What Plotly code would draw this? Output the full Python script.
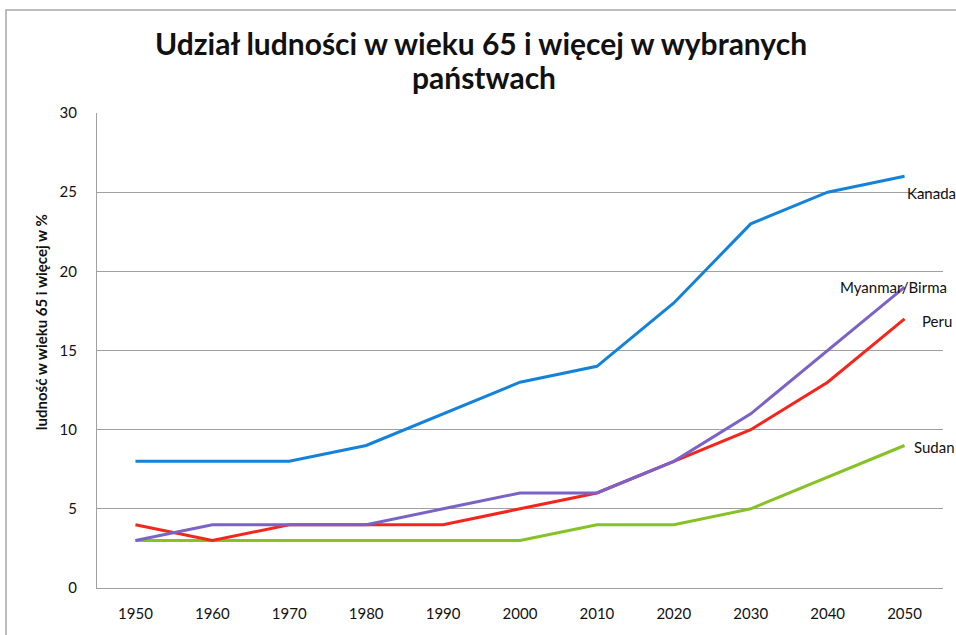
import plotly.graph_objects as go

years = ["1950", "1960", "1970", "1980", "1990", "2000", "2010", "2020", "2030", "2040", "2050"]
kanada = [8, 8, 8, 9, 11, 13, 14, 18, 23, 25, 26]
myanmar = [3, 4, 4, 4, 5, 6, 6, 8, 11, 15, 19]
peru = [4, 3, 4, 4, 4, 5, 6, 8, 10, 13, 17]
sudan = [3, 3, 3, 3, 3, 3, 4, 4, 5, 7, 9]

series = [
    ("Kanada", kanada, "#1482d8", 0, -17),
    ("Sudan", sudan, "#86c226", 7, -1),
    ("Peru", peru, "#f4261c", 15, -2),
    ("Myanmar/Birma", myanmar, "#7b62c6", -67, 0),
]

title_line1 = "Udział ludności w wieku 65 i więcej w wybranych"
title_line2 = "państwach"
y_title = "ludność w wieku 65 i więcej w %"
FONT = "Lato"

fig = go.Figure()
last = len(years) - 1
for name, vals, color, xs, ys in series:
    fig.add_trace(go.Scatter(x=years, y=vals, mode="lines", name=name,
                             line=dict(color=color, width=3), showlegend=False))
    fig.add_annotation(x=last, y=vals[-1], xref="x", yref="y", text=name,
                       showarrow=False, xanchor="left", yanchor="middle",
                       xshift=xs, yshift=ys,
                       font=dict(family=FONT, size=15, color="#111111"))

fig.add_annotation(x=-0.066, y=0.56, xref="paper", yref="paper", text=y_title,
                   showarrow=False, textangle=-90, xanchor="center", yanchor="middle",
                   font=dict(family=FONT, size=15, color="#111111", weight="bold"))

# title (two lines)
fig.add_annotation(x=0.454, y=1 + (113 - 43) / 475, xref="paper", yref="paper",
                   text=title_line1, showarrow=False, xanchor="center", yanchor="middle",
                   font=dict(family=FONT, size=30, color="#111111", weight="bold"))
fig.add_annotation(x=0.458, y=1 + (113 - 77) / 475, xref="paper", yref="paper",
                   text=title_line2, showarrow=False, xanchor="center", yanchor="middle",
                   font=dict(family=FONT, size=30, color="#111111", weight="bold"))

# outer chart border (left and top visible)
fig.add_shape(type="rect", xref="paper", yref="paper", x0=-0.1076, x1=1.3,
              y0=-0.3, y1=1.2168, line=dict(color="#a8a8a8", width=1.5),
              fillcolor="rgba(0,0,0,0)", layer="below")

fig.update_layout(
    width=956, height=635,
    margin=dict(l=97, r=13, t=113, b=47),
    paper_bgcolor="white", plot_bgcolor="white",
    xaxis=dict(type="category", range=[-0.5, 10.5], showgrid=False,
               showline=True, linecolor="#a0a0a0", linewidth=1,
               ticks="", ticklabelstandoff=12,
               tickfont=dict(family=FONT, size=15, color="#111111")),
    yaxis=dict(range=[0, 30], tickvals=[0, 5, 10, 15, 20, 25, 30],
               showgrid=True, gridcolor="#a0a0a0", gridwidth=1,
               showline=True, linecolor="#a0a0a0", linewidth=1,
               zeroline=False, ticks="", ticklabelstandoff=16,
               tickfont=dict(family=FONT, size=15, color="#111111")),
)

fig.write_html("out.html", config={"displayModeBar": False},
               post_script="document.body.style.margin='0';document.body.style.overflow='hidden';")
